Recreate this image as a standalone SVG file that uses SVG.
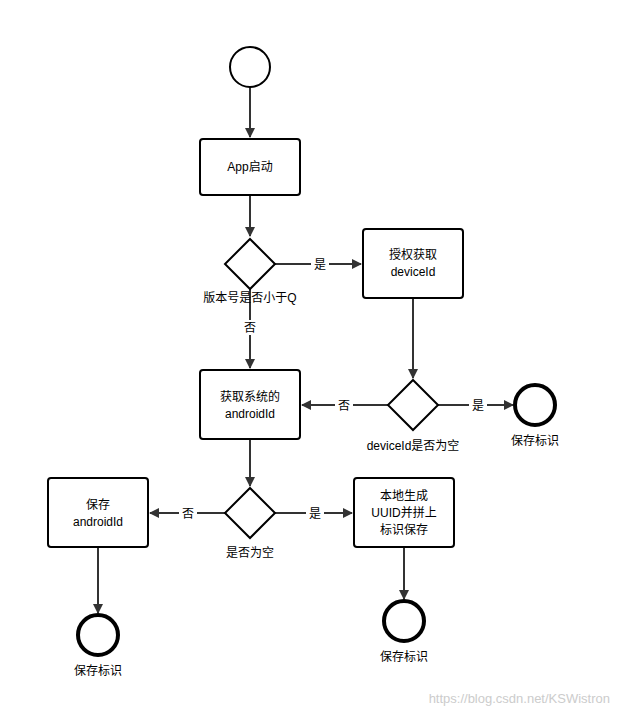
<svg xmlns="http://www.w3.org/2000/svg" width="618" height="717" viewBox="0 0 618 717">
<style>
.n{fill:#fff;stroke:#000;stroke-width:2}
.e{fill:#fff;stroke:#000;stroke-width:4}
.t{font-family:"Liberation Sans","Noto Sans CJK SC",sans-serif;font-size:12px;fill:#000;text-anchor:middle}
.c{stroke:#333;stroke-width:2;fill:none;marker-end:url(#a)}
.lb{fill:#fff}
</style>
<defs><marker id="a" viewBox="0 0 10 10" refX="9" refY="5" markerWidth="5" markerHeight="5" orient="auto"><path d="M0,0L10,5L0,10z" fill="#333"/></marker></defs>
<rect width="618" height="717" fill="#fff"/>
<g id="connectors">
<path class="c" d="M250,87V137"/>
<path class="c" d="M250,195V236"/>
<path class="c" d="M275,264H361"/>
<path class="c" d="M250,289V368"/>
<path class="c" d="M413,298V378"/>
<path class="c" d="M388,405H302"/>
<path class="c" d="M438,405H513"/>
<path class="c" d="M250,439V486"/>
<path class="c" d="M225,513H150"/>
<path class="c" d="M275,513H352"/>
<path class="c" d="M98,547V613"/>
<path class="c" d="M404,547V599"/>
<rect class="lb" x="311" y="257" width="18" height="15"/><text class="t" x="320" y="269">是</text>
<rect class="lb" x="241" y="320" width="18" height="15"/><text class="t" x="250" y="332">否</text>
<rect class="lb" x="335" y="398" width="18" height="15"/><text class="t" x="344" y="410">否</text>
<rect class="lb" x="469" y="398" width="18" height="15"/><text class="t" x="478" y="410">是</text>
<rect class="lb" x="179" y="506" width="18" height="15"/><text class="t" x="188" y="518">否</text>
<rect class="lb" x="306" y="506" width="18" height="15"/><text class="t" x="315" y="518">是</text>
</g>
<g id="start"><circle class="n" cx="250" cy="67" r="20"/></g>
<g id="app"><rect class="n" x="200" y="139" width="100" height="56" rx="3"/><text class="t" x="250" y="171">App启动</text></g>
<g id="d1"><path class="n" d="M250,239L275,264L250,289L225,264z"/><text class="t" x="250" y="302">版本号是否小于Q</text></g>
<g id="auth"><rect class="n" x="363" y="229" width="100" height="69" rx="3"/><text class="t" x="413" y="259">授权获取</text><text class="t" x="413" y="276">deviceId</text></g>
<g id="aid"><rect class="n" x="200" y="370" width="100" height="69" rx="3"/><text class="t" x="250" y="401">获取系统的</text><text class="t" x="250" y="418">androidId</text></g>
<g id="d2"><path class="n" d="M413,380L438,405L413,430L388,405z"/><text class="t" x="413" y="450">deviceId是否为空</text></g>
<g id="e1"><circle class="e" cx="535" cy="405" r="20"/><text class="t" x="535" y="445">保存标识</text></g>
<g id="d3"><path class="n" d="M250,488L275,513L250,538L225,513z"/><text class="t" x="250" y="557">是否为空</text></g>
<g id="save"><rect class="n" x="48" y="478" width="100" height="69" rx="3"/><text class="t" x="98" y="509">保存</text><text class="t" x="98" y="526">androidId</text></g>
<g id="gen"><rect class="n" x="354" y="478" width="100" height="69" rx="3"/><text class="t" x="404" y="500">本地生成</text><text class="t" x="404" y="517">UUID并拼上</text><text class="t" x="404" y="534">标识保存</text></g>
<g id="e2"><circle class="e" cx="98" cy="635" r="20"/><text class="t" x="98" y="675">保存标识</text></g>
<g id="e3"><circle class="e" cx="404" cy="621" r="20"/><text class="t" x="404" y="661">保存标识</text></g>
<text x="610" y="703" style="font-family:'Liberation Sans',sans-serif;font-size:13px;fill:#ccc;text-anchor:end">https://blog.csdn.net/KSWistron</text>
</svg>
